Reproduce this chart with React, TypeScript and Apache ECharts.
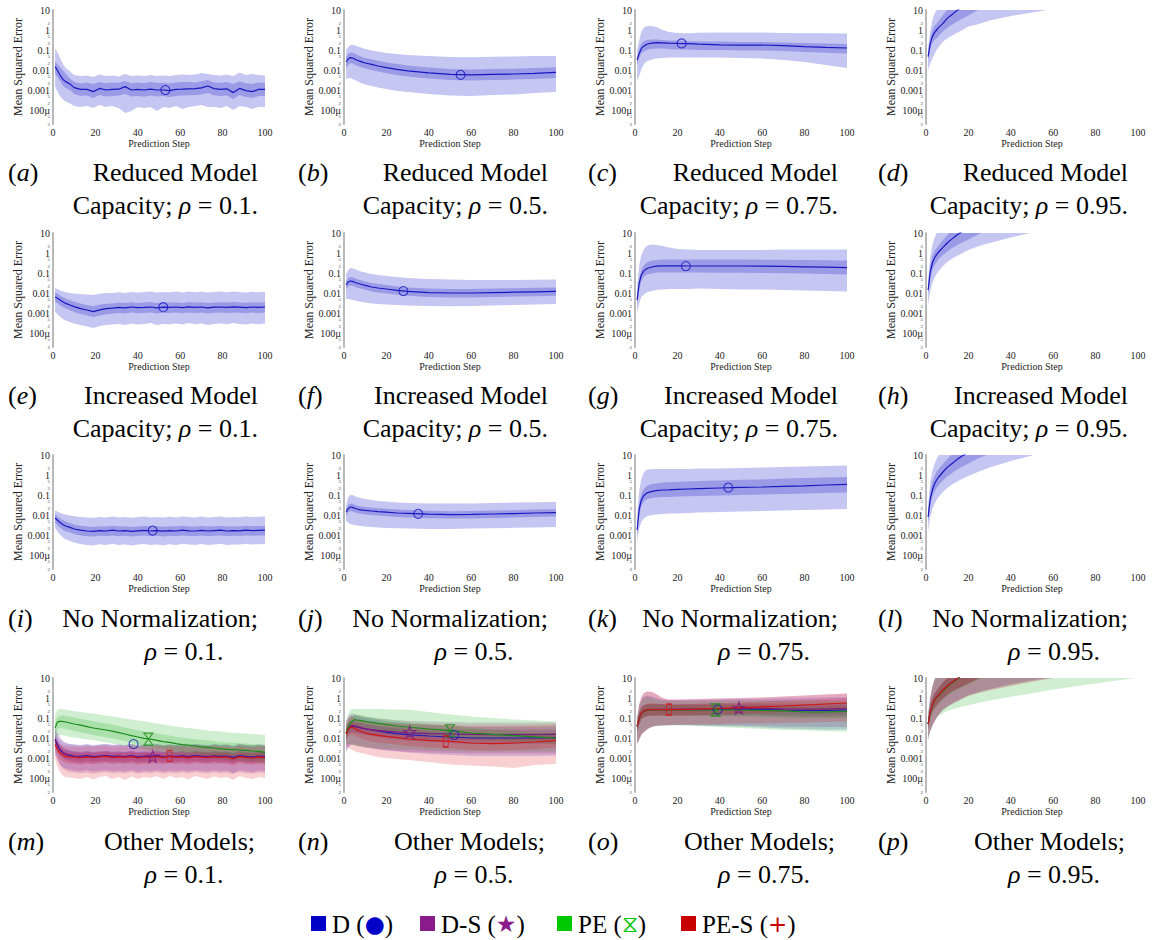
import React, { useEffect, useRef } from "react";
import * as echarts from "echarts";

const SERIF = '"Liberation Serif","Times New Roman",Times,serif';

// ---- prediction-step grids ----
const XN = [1,2,3,4,5,6,8,10,13,16,19,22,25,28,31,34,37,40,43,46,49,52,55,58,61,64,67,70,73,76,79,82,85,88,91,94,97,100];
const XS = [1,2,3,4,5,6,8,10,13,16,20,25,30,40,50,60,70,80,90,100];
const XD = [1,2,3,4,5,6,8,10,12,14,16,20,25,30,40,50,60,70,80,90,100];

// ---- values: log10(mean squared error) ----
// (a)
const a_med = [-1.83,-2.0,-2.2,-2.37,-2.5,-2.58,-2.7,-2.88,-2.97,-2.97,-3.08,-2.92,-3.0,-2.97,-2.96,-2.83,-3.0,-2.97,-3.0,-2.96,-3.0,-3.0,-3.03,-2.97,-2.96,-2.94,-2.93,-2.89,-2.8,-2.93,-2.97,-2.94,-3.13,-2.92,-3.03,-3.08,-2.97,-2.97];
const a_iHi = [-1.58,-1.7,-1.83,-1.95,-2.08,-2.2,-2.42,-2.6,-2.68,-2.62,-2.7,-2.6,-2.66,-2.62,-2.64,-2.55,-2.66,-2.62,-2.66,-2.6,-2.65,-2.64,-2.68,-2.62,-2.6,-2.6,-2.62,-2.56,-2.5,-2.62,-2.64,-2.6,-2.7,-2.58,-2.66,-2.7,-2.62,-2.64];
const a_iLo = [-2.17,-2.35,-2.5,-2.65,-2.83,-2.9,-3.0,-3.2,-3.3,-3.28,-3.4,-3.25,-3.32,-3.3,-3.28,-3.2,-3.32,-3.3,-3.34,-3.28,-3.32,-3.3,-3.35,-3.3,-3.28,-3.26,-3.25,-3.22,-3.15,-3.26,-3.3,-3.28,-3.45,-3.25,-3.35,-3.4,-3.3,-3.3];
const a_oHi = [-0.92,-1.1,-1.33,-1.55,-1.75,-1.9,-2.08,-2.25,-2.3,-2.28,-2.35,-2.22,-2.3,-2.27,-2.32,-2.2,-2.3,-2.28,-2.3,-2.25,-2.3,-2.28,-2.3,-2.25,-2.22,-2.25,-2.22,-2.15,-2.2,-2.25,-2.28,-2.22,-2.3,-2.12,-2.25,-2.2,-2.25,-2.28];
const a_oLo = [-2.83,-3.05,-3.25,-3.4,-3.5,-3.58,-3.67,-3.8,-3.85,-3.8,-3.9,-3.75,-3.85,-3.8,-3.9,-4.15,-4.05,-3.85,-3.9,-3.85,-4.05,-3.85,-3.9,-3.8,-3.95,-3.85,-3.8,-3.75,-3.85,-3.85,-3.9,-3.8,-4.0,-3.8,-3.85,-3.95,-3.85,-3.85];
const a_mk = [53, -3.0];
// (b)
const b_med = [-1.6,-1.45,-1.38,-1.4,-1.45,-1.5,-1.58,-1.65,-1.72,-1.8,-1.88,-1.97,-2.04,-2.14,-2.22,-2.24,-2.22,-2.2,-2.17,-2.12];
const b_iHi = [-1.35,-1.2,-1.12,-1.14,-1.18,-1.24,-1.32,-1.4,-1.46,-1.54,-1.62,-1.7,-1.77,-1.88,-1.95,-1.97,-1.95,-1.94,-1.9,-1.86];
const b_iLo = [-1.9,-1.75,-1.66,-1.68,-1.72,-1.78,-1.86,-1.92,-2.0,-2.08,-2.16,-2.25,-2.32,-2.42,-2.5,-2.52,-2.5,-2.48,-2.45,-2.4];
const b_oHi = [-1.0,-0.85,-0.75,-0.74,-0.76,-0.8,-0.88,-0.95,-1.02,-1.08,-1.15,-1.2,-1.25,-1.3,-1.35,-1.36,-1.34,-1.32,-1.3,-1.3];
const b_oLo = [-2.45,-2.4,-2.4,-2.45,-2.5,-2.55,-2.65,-2.72,-2.8,-2.88,-2.95,-3.05,-3.1,-3.2,-3.28,-3.3,-3.25,-3.22,-3.15,-3.1];
const b_mk = [55, -2.24];
// (c)
const c_med = [-1.5,-1.17,-0.92,-0.82,-0.75,-0.7,-0.66,-0.63,-0.64,-0.66,-0.67,-0.68,-0.71,-0.74,-0.76,-0.75,-0.78,-0.83,-0.87,-0.9];
const c_iHi = [-1.33,-0.95,-0.68,-0.58,-0.52,-0.5,-0.48,-0.48,-0.5,-0.52,-0.53,-0.55,-0.57,-0.58,-0.6,-0.6,-0.62,-0.65,-0.68,-0.7];
const c_iLo = [-1.75,-1.4,-1.15,-1.08,-1.03,-0.98,-0.94,-0.92,-0.93,-0.95,-0.97,-0.98,-1.0,-1.0,-1.02,-1.02,-1.05,-1.1,-1.14,-1.17];
const c_oHi = [-1.0,-0.5,-0.1,0.1,0.18,0.2,0.2,0.15,0.0,-0.1,-0.15,-0.16,-0.14,-0.12,-0.12,-0.13,-0.15,-0.16,-0.16,-0.17];
const c_oLo = [-2.5,-2.3,-1.95,-1.75,-1.6,-1.55,-1.48,-1.42,-1.4,-1.38,-1.38,-1.38,-1.37,-1.38,-1.4,-1.42,-1.5,-1.6,-1.75,-1.9];
const c_mk = [22, -0.67];
// (d)
const d_med = [-1.33,-0.67,-0.33,-0.13,0.0,0.13,0.33,0.58,0.75,0.92,1.08];
const d_iHi = [-1.15,-0.4,0.0,0.2,0.33,0.45,0.75,1.0,1.2,1.4,1.55,1.8,2,2.2];
const d_iLo = [-1.55,-0.95,-0.67,-0.5,-0.42,-0.3,-0.08,0.1,0.25,0.38,0.5,0.72,1.03,1.2];
const d_oHi = [-0.83,-0.1,0.5,0.8,1.0,1.2,1.5,1.8,2,2,2,2,2,2,2,2,2];
const d_oLo = [-2.0,-1.67,-1.42,-1.2,-1.0,-0.85,-0.58,-0.42,-0.3,-0.18,-0.08,0.17,0.3,0.47,0.7,0.87,1.05];
// (e)
const e_med = [-2.2,-2.25,-2.32,-2.4,-2.46,-2.52,-2.6,-2.68,-2.78,-2.85,-2.93,-2.84,-2.78,-2.76,-2.72,-2.74,-2.7,-2.73,-2.72,-2.7,-2.74,-2.71,-2.72,-2.7,-2.73,-2.69,-2.72,-2.7,-2.74,-2.71,-2.7,-2.72,-2.69,-2.71,-2.73,-2.7,-2.72,-2.7];
const e_iHi = [-1.95,-2.02,-2.1,-2.17,-2.22,-2.28,-2.36,-2.44,-2.52,-2.6,-2.66,-2.58,-2.54,-2.52,-2.48,-2.5,-2.46,-2.5,-2.47,-2.45,-2.5,-2.47,-2.48,-2.46,-2.5,-2.45,-2.48,-2.46,-2.5,-2.47,-2.46,-2.48,-2.45,-2.47,-2.49,-2.46,-2.48,-2.46];
const e_iLo = [-2.45,-2.5,-2.58,-2.66,-2.72,-2.78,-2.86,-2.95,-3.05,-3.12,-3.2,-3.12,-3.06,-3.04,-3.0,-3.02,-2.98,-3.01,-3.0,-2.98,-3.02,-2.99,-3.0,-2.98,-3.01,-2.97,-3.0,-2.98,-3.02,-2.99,-2.98,-3.0,-2.97,-2.99,-3.01,-2.98,-3.0,-2.98];
const e_oHi = [-1.75,-1.8,-1.85,-1.9,-1.93,-1.96,-2.0,-2.02,-2.05,-2.08,-2.1,-2.04,-2.0,-2.0,-1.96,-2.0,-1.95,-1.98,-1.95,-1.93,-1.98,-1.95,-1.96,-1.93,-1.98,-1.92,-1.96,-1.94,-1.98,-1.95,-1.93,-1.96,-1.92,-1.95,-1.97,-1.94,-1.96,-1.94];
const e_oLo = [-2.95,-3.05,-3.15,-3.25,-3.32,-3.38,-3.45,-3.52,-3.6,-3.68,-3.75,-3.65,-3.6,-3.58,-3.55,-3.6,-3.52,-3.58,-3.55,-3.5,-3.6,-3.55,-3.56,-3.52,-3.58,-3.5,-3.56,-3.53,-3.6,-3.55,-3.52,-3.56,-3.5,-3.55,-3.58,-3.52,-3.56,-3.53];
const e_mk = [52, -2.71];
// (f)
const f_med = [-1.6,-1.45,-1.4,-1.42,-1.46,-1.5,-1.56,-1.62,-1.7,-1.75,-1.8,-1.87,-1.92,-1.98,-2.0,-2.0,-1.98,-1.96,-1.94,-1.92];
const f_iHi = [-1.4,-1.25,-1.2,-1.22,-1.26,-1.3,-1.36,-1.42,-1.5,-1.55,-1.6,-1.67,-1.72,-1.78,-1.8,-1.8,-1.78,-1.76,-1.74,-1.72];
const f_iLo = [-1.82,-1.67,-1.62,-1.64,-1.68,-1.72,-1.78,-1.84,-1.92,-1.97,-2.02,-2.09,-2.14,-2.2,-2.22,-2.22,-2.2,-2.18,-2.16,-2.14];
const f_oHi = [-1.05,-0.85,-0.75,-0.76,-0.8,-0.85,-0.92,-0.98,-1.05,-1.1,-1.15,-1.2,-1.25,-1.3,-1.33,-1.35,-1.35,-1.35,-1.34,-1.33];
const f_oLo = [-2.3,-2.3,-2.32,-2.35,-2.38,-2.4,-2.44,-2.48,-2.52,-2.55,-2.58,-2.6,-2.62,-2.65,-2.66,-2.65,-2.63,-2.6,-2.58,-2.55];
const f_mk = [28, -1.9];
// (g)
const g_med = [-2.35,-1.5,-1.1,-0.92,-0.82,-0.76,-0.7,-0.66,-0.64,-0.64,-0.64,-0.65,-0.65,-0.65,-0.65,-0.66,-0.67,-0.69,-0.71,-0.73];
const g_iHi = [-2.1,-1.25,-0.85,-0.65,-0.52,-0.45,-0.38,-0.35,-0.33,-0.33,-0.32,-0.32,-0.33,-0.33,-0.33,-0.34,-0.34,-0.35,-0.36,-0.37];
const g_iLo = [-2.6,-1.8,-1.4,-1.2,-1.12,-1.06,-1.02,-0.98,-0.97,-0.97,-0.97,-0.98,-0.98,-0.99,-0.99,-1.0,-1.01,-1.03,-1.05,-1.07];
const g_oHi = [-1.6,-0.6,-0.1,0.15,0.3,0.38,0.42,0.4,0.35,0.28,0.2,0.17,0.15,0.15,0.15,0.15,0.17,0.17,0.18,0.18];
const g_oLo = [-3.0,-2.5,-2.2,-2.1,-2.0,-1.95,-1.9,-1.85,-1.82,-1.8,-1.8,-1.8,-1.78,-1.8,-1.82,-1.82,-1.85,-1.88,-1.9,-1.92];
const g_mk = [24, -0.65];
// (h)
const h_med = [-1.85,-0.95,-0.5,-0.25,-0.08,0.05,0.28,0.5,0.68,0.85,1.0,1.3];
const h_iHi = [-1.6,-0.6,-0.15,0.1,0.25,0.38,0.65,0.9,1.1,1.3,1.5,1.8,2,2];
const h_iLo = [-2.1,-1.3,-0.85,-0.62,-0.45,-0.3,-0.1,0.08,0.22,0.35,0.47,0.68,0.95,1.15];
const h_oHi = [-1.3,-0.2,0.4,0.75,1.0,1.2,1.5,2,2,2,2,2,2,2,2,2];
const h_oLo = [-2.6,-1.9,-1.5,-1.25,-1.05,-0.9,-0.65,-0.45,-0.3,-0.18,-0.08,0.15,0.35,0.5,0.78,1.02];
// (i)
const i_med = [-2.15,-2.25,-2.35,-2.42,-2.5,-2.55,-2.62,-2.7,-2.76,-2.8,-2.82,-2.78,-2.8,-2.76,-2.8,-2.78,-2.82,-2.79,-2.77,-2.8,-2.78,-2.81,-2.78,-2.8,-2.76,-2.79,-2.8,-2.77,-2.8,-2.78,-2.76,-2.8,-2.78,-2.79,-2.76,-2.78,-2.77,-2.76];
const i_iHi = [-1.95,-2.05,-2.14,-2.21,-2.28,-2.33,-2.4,-2.48,-2.54,-2.58,-2.6,-2.56,-2.58,-2.54,-2.58,-2.56,-2.6,-2.57,-2.55,-2.58,-2.56,-2.59,-2.56,-2.58,-2.54,-2.57,-2.58,-2.55,-2.58,-2.56,-2.54,-2.58,-2.56,-2.57,-2.54,-2.56,-2.55,-2.54];
const i_iLo = [-2.4,-2.5,-2.6,-2.68,-2.76,-2.81,-2.88,-2.96,-3.02,-3.06,-3.08,-3.04,-3.06,-3.02,-3.06,-3.04,-3.08,-3.05,-3.03,-3.06,-3.04,-3.07,-3.04,-3.06,-3.02,-3.05,-3.06,-3.03,-3.06,-3.04,-3.02,-3.06,-3.04,-3.05,-3.02,-3.04,-3.03,-3.02];
const i_oHi = [-1.75,-1.82,-1.88,-1.92,-1.96,-1.98,-2.02,-2.06,-2.1,-2.12,-2.14,-2.1,-2.13,-2.08,-2.12,-2.1,-2.14,-2.1,-2.08,-2.12,-2.1,-2.13,-2.09,-2.12,-2.07,-2.1,-2.12,-2.08,-2.12,-2.1,-2.07,-2.12,-2.1,-2.11,-2.07,-2.1,-2.09,-2.08];
const i_oLo = [-2.65,-2.8,-2.95,-3.05,-3.15,-3.22,-3.3,-3.38,-3.45,-3.5,-3.52,-3.46,-3.5,-3.44,-3.5,-3.47,-3.52,-3.48,-3.45,-3.5,-3.47,-3.51,-3.46,-3.5,-3.44,-3.48,-3.5,-3.45,-3.5,-3.47,-3.44,-3.5,-3.47,-3.48,-3.44,-3.47,-3.46,-3.45];
const i_mk = [47, -2.78];
// (j)
const j_med = [-1.85,-1.68,-1.6,-1.62,-1.66,-1.7,-1.74,-1.77,-1.8,-1.83,-1.86,-1.9,-1.92,-1.96,-1.98,-1.97,-1.95,-1.93,-1.9,-1.88];
const j_iHi = [-1.68,-1.5,-1.42,-1.44,-1.48,-1.52,-1.56,-1.6,-1.63,-1.66,-1.69,-1.73,-1.75,-1.79,-1.81,-1.8,-1.78,-1.76,-1.73,-1.71];
const j_iLo = [-2.05,-1.88,-1.8,-1.82,-1.86,-1.9,-1.94,-1.97,-2.0,-2.03,-2.06,-2.1,-2.12,-2.16,-2.18,-2.17,-2.15,-2.13,-2.1,-2.08];
const j_oHi = [-1.5,-1.1,-1.0,-1.0,-1.05,-1.1,-1.15,-1.2,-1.25,-1.3,-1.33,-1.37,-1.4,-1.42,-1.43,-1.42,-1.4,-1.38,-1.36,-1.35];
const j_oLo = [-2.3,-2.4,-2.45,-2.48,-2.5,-2.52,-2.55,-2.57,-2.6,-2.62,-2.65,-2.66,-2.68,-2.7,-2.7,-2.68,-2.66,-2.64,-2.62,-2.6];
const j_mk = [35, -1.94];
// (k)
const k_med = [-2.75,-1.7,-1.25,-1.05,-0.95,-0.88,-0.82,-0.78,-0.75,-0.74,-0.72,-0.7,-0.68,-0.65,-0.62,-0.6,-0.57,-0.54,-0.5,-0.47];
const k_iHi = [-2.5,-1.4,-0.95,-0.72,-0.6,-0.52,-0.45,-0.42,-0.38,-0.36,-0.34,-0.32,-0.3,-0.27,-0.24,-0.22,-0.18,-0.15,-0.12,-0.1];
const k_iLo = [-3.0,-2.0,-1.55,-1.35,-1.25,-1.2,-1.15,-1.12,-1.1,-1.1,-1.08,-1.06,-1.05,-1.02,-1.0,-0.98,-0.95,-0.92,-0.9,-0.88];
const k_oHi = [-2.0,-0.8,-0.2,0.1,0.22,0.28,0.3,0.3,0.3,0.3,0.3,0.3,0.32,0.33,0.35,0.37,0.4,0.42,0.45,0.48];
const k_oLo = [-3.3,-2.7,-2.35,-2.2,-2.1,-2.05,-2.0,-1.98,-1.95,-1.93,-1.92,-1.9,-1.88,-1.85,-1.82,-1.8,-1.78,-1.75,-1.72,-1.7];
const k_mk = [44, -0.63];
// (l)
const l_med = [-2.1,-1.2,-0.75,-0.45,-0.25,-0.1,0.15,0.38,0.55,0.72,0.88,1.15];
const l_iHi = [-1.85,-0.85,-0.35,-0.05,0.15,0.3,0.55,0.8,1.0,1.2,1.4,1.7,2,2];
const l_iLo = [-2.35,-1.55,-1.1,-0.85,-0.65,-0.5,-0.28,-0.08,0.08,0.22,0.35,0.58,0.85,1.05];
const l_oHi = [-1.5,-0.4,0.2,0.55,0.8,1.0,1.4,2,2,2,2,2,2,2,2,2];
const l_oLo = [-2.8,-2.1,-1.7,-1.45,-1.25,-1.1,-0.85,-0.65,-0.5,-0.38,-0.25,-0.05,0.18,0.38,0.7,0.98];
// (m)
const m_D_med = [-2.1,-2.35,-2.55,-2.68,-2.75,-2.8,-2.86,-2.9,-2.92,-2.88,-2.93,-2.9,-2.88,-2.92,-2.9,-2.93,-2.88,-2.94,-2.9,-2.92,-2.88,-2.93,-2.9,-2.92,-2.89,-2.93,-2.88,-2.91,-2.93,-2.89,-2.92,-2.9,-2.97,-2.88,-2.92,-2.95,-2.9,-2.92];
const m_D_iHi = [-1.9,-2.12,-2.32,-2.45,-2.52,-2.57,-2.63,-2.67,-2.69,-2.65,-2.7,-2.67,-2.65,-2.69,-2.67,-2.7,-2.65,-2.71,-2.67,-2.69,-2.65,-2.7,-2.67,-2.69,-2.66,-2.7,-2.65,-2.68,-2.7,-2.66,-2.69,-2.67,-2.74,-2.65,-2.69,-2.72,-2.67,-2.69];
const m_D_iLo = [-2.35,-2.6,-2.8,-2.93,-3.0,-3.05,-3.11,-3.15,-3.17,-3.13,-3.18,-3.15,-3.13,-3.17,-3.15,-3.18,-3.13,-3.19,-3.15,-3.17,-3.13,-3.18,-3.15,-3.17,-3.14,-3.18,-3.13,-3.16,-3.18,-3.14,-3.17,-3.15,-3.22,-3.13,-3.17,-3.2,-3.15,-3.17];
const m_D_oHi = [-1.6,-1.85,-2.05,-2.15,-2.22,-2.26,-2.3,-2.33,-2.35,-2.3,-2.36,-2.32,-2.3,-2.35,-2.32,-2.36,-2.3,-2.37,-2.32,-2.35,-2.3,-2.36,-2.32,-2.35,-2.31,-2.36,-2.3,-2.34,-2.36,-2.31,-2.35,-2.32,-2.4,-2.3,-2.35,-2.38,-2.32,-2.35];
const m_D_oLo = [-2.7,-3.0,-3.25,-3.4,-3.48,-3.52,-3.58,-3.62,-3.65,-3.6,-3.68,-3.62,-3.6,-3.66,-3.62,-3.68,-3.6,-3.7,-3.62,-3.66,-3.6,-3.68,-3.62,-3.66,-3.6,-3.68,-3.6,-3.64,-3.68,-3.6,-3.66,-3.62,-3.75,-3.6,-3.66,-3.7,-3.62,-3.66];
const m_D_mk = [38, -2.3];
const m_DS_med = [-2.05,-2.3,-2.5,-2.65,-2.75,-2.82,-2.9,-2.93,-2.96,-2.92,-2.97,-2.93,-2.9,-2.95,-2.92,-2.96,-2.9,-2.97,-2.93,-2.95,-2.9,-2.96,-2.92,-2.95,-2.91,-2.96,-2.9,-2.94,-2.96,-2.91,-2.95,-2.92,-3.0,-2.9,-2.95,-2.98,-2.92,-2.95];
const m_DS_iHi = [-1.8,-2.05,-2.25,-2.4,-2.5,-2.57,-2.65,-2.68,-2.71,-2.67,-2.72,-2.68,-2.65,-2.7,-2.67,-2.71,-2.65,-2.72,-2.68,-2.7,-2.65,-2.71,-2.67,-2.7,-2.66,-2.71,-2.65,-2.69,-2.71,-2.66,-2.7,-2.67,-2.75,-2.65,-2.7,-2.73,-2.67,-2.7];
const m_DS_iLo = [-2.35,-2.6,-2.8,-2.95,-3.05,-3.12,-3.2,-3.23,-3.26,-3.22,-3.27,-3.23,-3.2,-3.25,-3.22,-3.26,-3.2,-3.27,-3.23,-3.25,-3.2,-3.26,-3.22,-3.25,-3.21,-3.26,-3.2,-3.24,-3.26,-3.21,-3.25,-3.22,-3.3,-3.2,-3.25,-3.28,-3.22,-3.25];
const m_DS_oHi = [-1.45,-1.7,-1.9,-2.05,-2.15,-2.22,-2.3,-2.33,-2.36,-2.32,-2.37,-2.33,-2.3,-2.35,-2.32,-2.36,-2.3,-2.37,-2.33,-2.35,-2.3,-2.36,-2.32,-2.35,-2.31,-2.36,-2.3,-2.34,-2.36,-2.31,-2.35,-2.32,-2.4,-2.3,-2.35,-2.38,-2.32,-2.35];
const m_DS_oLo = [-2.85,-3.1,-3.3,-3.45,-3.55,-3.62,-3.7,-3.73,-3.76,-3.72,-3.77,-3.73,-3.7,-3.75,-3.72,-3.76,-3.7,-3.77,-3.73,-3.75,-3.7,-3.76,-3.72,-3.75,-3.71,-3.76,-3.7,-3.74,-3.76,-3.71,-3.75,-3.72,-3.8,-3.7,-3.75,-3.78,-3.72,-3.75];
const m_DS_mk = [47, -2.92];
const m_PE_med = [-1.5,-1.22,-1.17,-1.17,-1.18,-1.2,-1.25,-1.3,-1.36,-1.43,-1.5,-1.55,-1.6,-1.66,-1.73,-1.8,-1.88,-1.95,-2.02,-2.06,-2.12,-2.18,-2.22,-2.28,-2.33,-2.36,-2.4,-2.44,-2.47,-2.5,-2.54,-2.57,-2.58,-2.6,-2.62,-2.65,-2.67,-2.72];
const m_PE_iHi = [-1.25,-0.95,-0.9,-0.88,-0.88,-0.9,-0.94,-0.98,-1.04,-1.1,-1.16,-1.22,-1.27,-1.33,-1.4,-1.47,-1.55,-1.62,-1.68,-1.72,-1.78,-1.84,-1.88,-1.94,-1.99,-2.02,-2.06,-2.1,-2.13,-2.16,-2.2,-2.23,-2.24,-2.26,-2.28,-2.31,-2.33,-2.38];
const m_PE_iLo = [-1.85,-1.55,-1.5,-1.5,-1.52,-1.55,-1.6,-1.65,-1.72,-1.78,-1.85,-1.9,-1.96,-2.02,-2.09,-2.16,-2.24,-2.31,-2.38,-2.42,-2.48,-2.54,-2.58,-2.64,-2.69,-2.72,-2.76,-2.8,-2.83,-2.86,-2.9,-2.93,-2.94,-2.96,-2.98,-3.01,-3.03,-3.08];
const m_PE_oHi = [-0.85,-0.6,-0.55,-0.55,-0.57,-0.58,-0.62,-0.66,-0.7,-0.74,-0.78,-0.82,-0.87,-0.92,-0.97,-1.02,-1.08,-1.13,-1.18,-1.22,-1.28,-1.33,-1.37,-1.42,-1.47,-1.5,-1.54,-1.58,-1.62,-1.65,-1.68,-1.72,-1.74,-1.76,-1.78,-1.8,-1.82,-1.85];
const m_PE_oLo = [-2.2,-1.9,-1.85,-1.85,-1.88,-1.9,-1.95,-1.98,-2.02,-2.06,-2.1,-2.16,-2.22,-2.28,-2.34,-2.4,-2.46,-2.52,-2.58,-2.62,-2.66,-2.72,-2.76,-2.8,-2.85,-2.88,-2.92,-2.96,-3.0,-3.03,-3.06,-3.1,-3.12,-3.15,-3.18,-3.2,-3.22,-3.25];
const m_PE_mk = [45, -2.05];
const m_PES_med = [-2.33,-2.55,-2.72,-2.8,-2.88,-2.92,-2.95,-2.96,-3.0,-2.94,-2.98,-2.95,-2.92,-2.98,-2.94,-2.97,-2.93,-3.0,-2.95,-2.97,-2.93,-2.98,-2.92,-2.97,-2.94,-2.99,-2.93,-2.96,-2.98,-2.94,-2.97,-2.95,-3.05,-2.93,-2.98,-3.0,-2.96,-2.98];
const m_PES_iHi = [-2.1,-2.3,-2.48,-2.56,-2.64,-2.68,-2.72,-2.73,-2.78,-2.72,-2.76,-2.73,-2.7,-2.76,-2.72,-2.75,-2.71,-2.78,-2.73,-2.75,-2.71,-2.76,-2.7,-2.75,-2.72,-2.77,-2.71,-2.74,-2.76,-2.72,-2.75,-2.73,-2.82,-2.71,-2.76,-2.78,-2.74,-2.76];
const m_PES_iLo = [-2.6,-2.85,-3.05,-3.12,-3.2,-3.24,-3.27,-3.28,-3.32,-3.26,-3.3,-3.27,-3.24,-3.3,-3.26,-3.29,-3.25,-3.32,-3.27,-3.29,-3.25,-3.3,-3.24,-3.29,-3.26,-3.31,-3.25,-3.28,-3.3,-3.26,-3.29,-3.27,-3.38,-3.25,-3.3,-3.32,-3.28,-3.3];
const m_PES_oHi = [-2.05,-2.2,-2.3,-2.35,-2.38,-2.4,-2.42,-2.42,-2.45,-2.4,-2.43,-2.4,-2.38,-2.44,-2.4,-2.42,-2.38,-2.45,-2.4,-2.42,-2.38,-2.43,-2.37,-2.42,-2.4,-2.44,-2.38,-2.41,-2.43,-2.39,-2.42,-2.4,-2.48,-2.38,-2.42,-2.45,-2.4,-2.42];
const m_PES_oLo = [-3.0,-3.4,-3.65,-3.8,-3.9,-3.95,-3.98,-4.0,-4.05,-3.95,-4.08,-3.95,-3.9,-4.05,-3.95,-4.1,-3.92,-4.05,-3.95,-4.0,-3.9,-4.05,-3.9,-4.0,-3.95,-4.08,-3.9,-3.98,-4.05,-3.92,-4.0,-3.95,-4.1,-3.9,-4.0,-4.05,-3.95,-4.0];
const m_PES_mk = [55, -2.9];
// (n)
const n_D_med = [-1.75,-1.55,-1.45,-1.42,-1.42,-1.45,-1.5,-1.55,-1.6,-1.65,-1.72,-1.78,-1.83,-1.9,-1.95,-2.0,-2.0,-2.0,-2.0,-1.98];
const n_D_iHi = [-1.5,-1.3,-1.2,-1.17,-1.17,-1.2,-1.25,-1.3,-1.35,-1.4,-1.47,-1.53,-1.58,-1.65,-1.7,-1.75,-1.75,-1.75,-1.75,-1.73];
const n_D_iLo = [-2.05,-1.85,-1.75,-1.72,-1.72,-1.75,-1.8,-1.85,-1.9,-1.95,-2.02,-2.08,-2.13,-2.2,-2.25,-2.3,-2.3,-2.3,-2.3,-2.28];
const n_D_oHi = [-1.2,-1.0,-0.9,-0.87,-0.87,-0.9,-0.95,-1.0,-1.05,-1.1,-1.17,-1.23,-1.28,-1.35,-1.4,-1.45,-1.45,-1.45,-1.45,-1.43];
const n_D_oLo = [-2.65,-2.45,-2.35,-2.32,-2.32,-2.35,-2.4,-2.45,-2.5,-2.55,-2.62,-2.68,-2.73,-2.8,-2.85,-2.9,-2.9,-2.9,-2.9,-2.88];
const n_D_mk = [52, -1.85];
const n_DS_med = [-1.75,-1.5,-1.4,-1.38,-1.4,-1.43,-1.48,-1.53,-1.58,-1.62,-1.66,-1.7,-1.74,-1.78,-1.8,-1.82,-1.83,-1.83,-1.83,-1.82];
const n_DS_iHi = [-1.5,-1.25,-1.15,-1.13,-1.15,-1.18,-1.23,-1.28,-1.33,-1.37,-1.41,-1.45,-1.49,-1.53,-1.55,-1.57,-1.58,-1.58,-1.58,-1.57];
const n_DS_iLo = [-2.05,-1.8,-1.7,-1.68,-1.7,-1.73,-1.78,-1.83,-1.88,-1.92,-1.96,-2.0,-2.04,-2.08,-2.1,-2.12,-2.13,-2.13,-2.13,-2.12];
const n_DS_oHi = [-1.15,-0.9,-0.8,-0.78,-0.8,-0.83,-0.88,-0.93,-0.98,-1.02,-1.06,-1.1,-1.14,-1.18,-1.2,-1.22,-1.23,-1.23,-1.23,-1.22];
const n_DS_oLo = [-2.7,-2.45,-2.35,-2.33,-2.35,-2.38,-2.43,-2.48,-2.53,-2.57,-2.61,-2.65,-2.69,-2.73,-2.75,-2.77,-2.78,-2.78,-2.78,-2.77];
const n_DS_mk = [31, -1.7];
const n_PE_med = [-1.75,-1.45,-1.25,-1.15,-1.08,-1.1,-1.13,-1.17,-1.22,-1.27,-1.33,-1.4,-1.45,-1.55,-1.63,-1.75,-1.82,-1.88,-1.94,-2.0];
const n_PE_iHi = [-1.5,-1.2,-1.0,-0.9,-0.83,-0.85,-0.88,-0.92,-0.97,-1.02,-1.08,-1.15,-1.2,-1.3,-1.38,-1.5,-1.57,-1.63,-1.69,-1.75];
const n_PE_iLo = [-2.05,-1.75,-1.55,-1.45,-1.38,-1.4,-1.43,-1.47,-1.52,-1.57,-1.63,-1.7,-1.75,-1.85,-1.93,-2.05,-2.12,-2.18,-2.24,-2.3];
const n_PE_oHi = [-1.3,-0.8,-0.6,-0.55,-0.55,-0.55,-0.55,-0.55,-0.55,-0.55,-0.56,-0.57,-0.58,-0.7,-0.82,-0.92,-1.0,-1.08,-1.13,-1.17];
const n_PE_oLo = [-2.3,-2.3,-2.3,-2.35,-2.4,-2.42,-2.45,-2.47,-2.5,-2.52,-2.55,-2.57,-2.58,-2.62,-2.65,-2.67,-2.68,-2.68,-2.68,-2.68];
const n_PE_mk = [50, -1.63];
const n_PES_med = [-1.8,-1.55,-1.47,-1.47,-1.52,-1.58,-1.66,-1.75,-1.82,-1.87,-1.92,-1.98,-2.05,-2.12,-2.17,-2.25,-2.28,-2.25,-2.2,-2.13];
const n_PES_iHi = [-1.55,-1.3,-1.22,-1.22,-1.27,-1.33,-1.41,-1.5,-1.57,-1.62,-1.67,-1.73,-1.8,-1.87,-1.92,-2.0,-2.03,-2.0,-1.95,-1.88];
const n_PES_iLo = [-2.15,-1.9,-1.82,-1.82,-1.87,-1.93,-2.01,-2.1,-2.17,-2.22,-2.27,-2.33,-2.4,-2.47,-2.52,-2.6,-2.63,-2.6,-2.55,-2.48];
const n_PES_oHi = [-1.3,-1.05,-0.95,-0.95,-1.0,-1.05,-1.1,-1.15,-1.2,-1.22,-1.25,-1.28,-1.3,-1.33,-1.35,-1.38,-1.38,-1.36,-1.35,-1.33];
const n_PES_oLo = [-2.4,-2.5,-2.55,-2.6,-2.65,-2.7,-2.75,-2.8,-2.88,-2.95,-3.0,-3.05,-3.1,-3.2,-3.32,-3.38,-3.42,-3.5,-3.35,-3.3];
const n_PES_mk = [48, -2.17];
// (o)
const o_D_med = [-1.42,-1.0,-0.75,-0.68,-0.63,-0.6,-0.58,-0.58,-0.58,-0.58,-0.58,-0.58,-0.58,-0.57,-0.56,-0.57,-0.6,-0.62,-0.62,-0.6];
const o_D_iHi = [-1.2,-0.75,-0.48,-0.4,-0.35,-0.32,-0.3,-0.3,-0.32,-0.33,-0.33,-0.33,-0.33,-0.32,-0.31,-0.32,-0.34,-0.36,-0.36,-0.34];
const o_D_iLo = [-1.7,-1.3,-1.05,-0.98,-0.93,-0.9,-0.88,-0.88,-0.88,-0.88,-0.88,-0.88,-0.88,-0.87,-0.86,-0.88,-0.92,-0.95,-0.95,-0.93];
const o_D_oHi = [-1.0,-0.4,-0.1,0.05,0.1,0.12,0.08,0.0,-0.08,-0.1,-0.1,-0.1,-0.1,-0.08,-0.06,-0.05,-0.03,0.0,0.02,0.05];
const o_D_oLo = [-2.3,-2.05,-1.82,-1.7,-1.63,-1.53,-1.43,-1.38,-1.36,-1.35,-1.35,-1.36,-1.37,-1.4,-1.43,-1.47,-1.52,-1.55,-1.57,-1.58];
const o_D_mk = [39, -0.58];
const o_DS_med = [-1.42,-1.0,-0.75,-0.67,-0.62,-0.59,-0.57,-0.57,-0.57,-0.57,-0.56,-0.56,-0.55,-0.54,-0.52,-0.52,-0.54,-0.55,-0.55,-0.53];
const o_DS_iHi = [-1.2,-0.72,-0.45,-0.37,-0.32,-0.29,-0.28,-0.29,-0.3,-0.31,-0.31,-0.3,-0.29,-0.28,-0.26,-0.26,-0.27,-0.28,-0.28,-0.26];
const o_DS_iLo = [-1.7,-1.3,-1.05,-0.97,-0.92,-0.89,-0.87,-0.87,-0.87,-0.87,-0.86,-0.86,-0.85,-0.84,-0.82,-0.82,-0.84,-0.86,-0.86,-0.84];
const o_DS_oHi = [-1.0,-0.3,0.05,0.22,0.3,0.32,0.3,0.2,0.0,-0.08,-0.08,-0.06,-0.05,-0.02,0.0,0.03,0.08,0.12,0.18,0.22];
const o_DS_oLo = [-2.3,-2.08,-1.84,-1.72,-1.64,-1.54,-1.44,-1.39,-1.37,-1.36,-1.35,-1.35,-1.36,-1.37,-1.38,-1.4,-1.42,-1.44,-1.45,-1.45];
const o_DS_mk = [49, -0.5];
const o_PE_med = [-1.42,-1.0,-0.76,-0.69,-0.64,-0.61,-0.59,-0.59,-0.59,-0.59,-0.59,-0.58,-0.6,-0.6,-0.6,-0.62,-0.64,-0.7,-0.7,-0.67];
const o_PE_iHi = [-1.2,-0.76,-0.5,-0.42,-0.37,-0.34,-0.32,-0.33,-0.34,-0.35,-0.35,-0.34,-0.35,-0.35,-0.35,-0.37,-0.39,-0.44,-0.44,-0.42];
const o_PE_iLo = [-1.7,-1.3,-1.06,-0.99,-0.94,-0.91,-0.89,-0.89,-0.89,-0.89,-0.89,-0.88,-0.9,-0.9,-0.92,-0.95,-0.98,-1.02,-1.02,-1.0];
const o_PE_oHi = [-1.0,-0.45,-0.15,0.0,0.05,0.05,0.0,-0.05,-0.12,-0.15,-0.15,-0.15,-0.15,-0.14,-0.13,-0.12,-0.12,-0.13,-0.14,-0.15];
const o_PE_oLo = [-2.3,-2.0,-1.8,-1.7,-1.65,-1.55,-1.45,-1.4,-1.38,-1.37,-1.37,-1.38,-1.4,-1.45,-1.5,-1.55,-1.6,-1.62,-1.65,-1.68];
const o_PE_mk = [38, -0.6];
const o_PES_med = [-1.42,-1.0,-0.75,-0.67,-0.62,-0.59,-0.58,-0.58,-0.58,-0.58,-0.58,-0.57,-0.56,-0.52,-0.48,-0.44,-0.4,-0.35,-0.3,-0.25];
const o_PES_iHi = [-1.2,-0.72,-0.45,-0.37,-0.32,-0.29,-0.28,-0.29,-0.31,-0.32,-0.32,-0.31,-0.3,-0.26,-0.22,-0.18,-0.14,-0.1,-0.05,0.0];
const o_PES_iLo = [-1.7,-1.3,-1.05,-0.97,-0.92,-0.89,-0.88,-0.88,-0.88,-0.88,-0.88,-0.87,-0.86,-0.82,-0.78,-0.74,-0.7,-0.65,-0.6,-0.55];
const o_PES_oHi = [-1.0,-0.3,0.05,0.22,0.3,0.32,0.3,0.2,0.0,-0.08,-0.08,-0.06,-0.05,-0.02,0.0,0.03,0.08,0.12,0.18,0.22];
const o_PES_oLo = [-2.3,-2.1,-1.85,-1.72,-1.65,-1.55,-1.45,-1.4,-1.37,-1.35,-1.33,-1.33,-1.32,-1.3,-1.28,-1.27,-1.25,-1.22,-1.2,-1.18];
const o_PES_mk = [16, -0.58];
// (p)
const p_D_med = [-1.3,-0.7,-0.35,-0.12,0.02,0.15,0.38,0.58,0.75,0.9,1.05];
const p_D_iHi = [-1.1,-0.4,0.0,0.22,0.37,0.5,0.78,1.0,1.2,1.4,1.6,1.9,2,2];
const p_D_iLo = [-1.5,-1.0,-0.7,-0.5,-0.38,-0.25,-0.03,0.15,0.3,0.42,0.52,0.72,0.98,1.15];
const p_D_oHi = [-0.8,0.0,0.55,0.9,1.1,1.3,1.6,2,2,2,2,2,2,2,2,2,2];
const p_D_oLo = [-2.0,-1.65,-1.4,-1.2,-1.0,-0.85,-0.6,-0.45,-0.32,-0.2,-0.1,0.12,0.28,0.42,0.65,0.85,1.02];
const p_DS_med = [-1.3,-0.68,-0.33,-0.1,0.04,0.17,0.4,0.6,0.77,0.92,1.07];
const p_DS_iHi = [-1.08,-0.38,0.02,0.24,0.4,0.53,0.8,1.02,1.22,1.42,1.62,1.9,2,2];
const p_DS_iLo = [-1.52,-1.0,-0.68,-0.48,-0.36,-0.22,0.0,0.18,0.33,0.45,0.55,0.75,1.0,1.18];
const p_DS_oHi = [-0.75,0.05,0.6,0.95,1.15,1.35,1.6,2,2,2,2,2,2,2,2,2,2];
const p_DS_oLo = [-2.0,-1.6,-1.35,-1.15,-0.95,-0.8,-0.55,-0.4,-0.28,-0.16,-0.06,0.15,0.32,0.45,0.7,0.9,1.05];
const p_PE_med = [-1.3,-0.72,-0.38,-0.15,0.0,0.12,0.35,0.55,0.72,0.87,1.02];
const p_PE_iHi = [-1.1,-0.42,-0.02,0.2,0.35,0.48,0.75,0.98,1.18,1.38,1.58,1.9,2,2];
const p_PE_iLo = [-1.55,-1.05,-0.75,-0.55,-0.42,-0.3,-0.08,0.1,0.25,0.37,0.47,0.67,0.92,1.1];
const p_PE_oHi = [-0.8,0.0,0.55,0.9,1.1,1.3,1.6,2,2,2,2,2,2,2,2,2,2,2,2,2,2];
const p_PE_oLo = [-2.2,-1.65,-1.35,-1.15,-1.0,-0.9,-0.76,-0.66,-0.58,-0.52,-0.46,-0.36,-0.24,-0.12,0.06,0.24,0.42,0.58,0.72,0.88,1.02];
const p_PES_med = [-1.3,-0.7,-0.34,-0.11,0.03,0.16,0.39,0.59,0.76,0.91,1.06];
const p_PES_iHi = [-1.1,-0.4,0.0,0.23,0.38,0.52,0.79,1.0,1.2,1.4,1.6,1.9,2,2];
const p_PES_iLo = [-1.5,-1.0,-0.7,-0.5,-0.37,-0.24,-0.02,0.16,0.31,0.43,0.53,0.73,0.99,1.16];
const p_PES_oHi = [-0.8,0.0,0.55,0.9,1.1,1.3,1.6,2,2,2,2,2,2,2,2,2,2];
const p_PES_oLo = [-2.05,-1.65,-1.4,-1.2,-1.0,-0.85,-0.6,-0.45,-0.32,-0.2,-0.1,0.1,0.25,0.38,0.6,0.8,1.0];

// ---- axis ticks / text ----
const Y_DECADES = [1, 0, -1, -2, -3, -4];
const Y_DECADE_LABELS = ["10", "1", "0.1", "0.01", "0.001", "100µ"];
const Y_MINOR_MANTISSAS = [5, 2];
const Y_MAX = 1;
const Y_MIN = Math.log10(2e-5);
const X_TICK_INTERVAL = 20;

const LETTERS = ["a","b","c","d","e","f","g","h","i","j","k","l","m","n","o","p"];
const ROW_TITLES = ["Reduced Model", "Increased Model", "No Normalization;", "Other Models;"];
const RHOS = ["0.1", "0.5", "0.75", "0.95"];
const LEGEND_NAMES = ["D", "D-S", "PE", "PE-S"];
const LEGEND_GLYPHS = ["●", "★", "⧖", "+"];

type ModelKey = "D" | "DS" | "PE" | "PES";
type Spec = { m: ModelKey; x: number[]; med: number[]; iLo: number[]; iHi: number[]; oLo: number[]; oHi: number[]; mk?: number[] };

const PANELS: Spec[][] = [
  [{ m: "D", x: XN, med: a_med, iLo: a_iLo, iHi: a_iHi, oLo: a_oLo, oHi: a_oHi, mk: a_mk }],
  [{ m: "D", x: XS, med: b_med, iLo: b_iLo, iHi: b_iHi, oLo: b_oLo, oHi: b_oHi, mk: b_mk }],
  [{ m: "D", x: XS, med: c_med, iLo: c_iLo, iHi: c_iHi, oLo: c_oLo, oHi: c_oHi, mk: c_mk }],
  [{ m: "D", x: XD, med: d_med, iLo: d_iLo, iHi: d_iHi, oLo: d_oLo, oHi: d_oHi }],
  [{ m: "D", x: XN, med: e_med, iLo: e_iLo, iHi: e_iHi, oLo: e_oLo, oHi: e_oHi, mk: e_mk }],
  [{ m: "D", x: XS, med: f_med, iLo: f_iLo, iHi: f_iHi, oLo: f_oLo, oHi: f_oHi, mk: f_mk }],
  [{ m: "D", x: XS, med: g_med, iLo: g_iLo, iHi: g_iHi, oLo: g_oLo, oHi: g_oHi, mk: g_mk }],
  [{ m: "D", x: XD, med: h_med, iLo: h_iLo, iHi: h_iHi, oLo: h_oLo, oHi: h_oHi }],
  [{ m: "D", x: XN, med: i_med, iLo: i_iLo, iHi: i_iHi, oLo: i_oLo, oHi: i_oHi, mk: i_mk }],
  [{ m: "D", x: XS, med: j_med, iLo: j_iLo, iHi: j_iHi, oLo: j_oLo, oHi: j_oHi, mk: j_mk }],
  [{ m: "D", x: XS, med: k_med, iLo: k_iLo, iHi: k_iHi, oLo: k_oLo, oHi: k_oHi, mk: k_mk }],
  [{ m: "D", x: XD, med: l_med, iLo: l_iLo, iHi: l_iHi, oLo: l_oLo, oHi: l_oHi }],
  [
    { m: "D", x: XN, med: m_D_med, iLo: m_D_iLo, iHi: m_D_iHi, oLo: m_D_oLo, oHi: m_D_oHi, mk: m_D_mk },
    { m: "DS", x: XN, med: m_DS_med, iLo: m_DS_iLo, iHi: m_DS_iHi, oLo: m_DS_oLo, oHi: m_DS_oHi, mk: m_DS_mk },
    { m: "PE", x: XN, med: m_PE_med, iLo: m_PE_iLo, iHi: m_PE_iHi, oLo: m_PE_oLo, oHi: m_PE_oHi, mk: m_PE_mk },
    { m: "PES", x: XN, med: m_PES_med, iLo: m_PES_iLo, iHi: m_PES_iHi, oLo: m_PES_oLo, oHi: m_PES_oHi, mk: m_PES_mk },
  ],
  [
    { m: "D", x: XS, med: n_D_med, iLo: n_D_iLo, iHi: n_D_iHi, oLo: n_D_oLo, oHi: n_D_oHi, mk: n_D_mk },
    { m: "DS", x: XS, med: n_DS_med, iLo: n_DS_iLo, iHi: n_DS_iHi, oLo: n_DS_oLo, oHi: n_DS_oHi, mk: n_DS_mk },
    { m: "PE", x: XS, med: n_PE_med, iLo: n_PE_iLo, iHi: n_PE_iHi, oLo: n_PE_oLo, oHi: n_PE_oHi, mk: n_PE_mk },
    { m: "PES", x: XS, med: n_PES_med, iLo: n_PES_iLo, iHi: n_PES_iHi, oLo: n_PES_oLo, oHi: n_PES_oHi, mk: n_PES_mk },
  ],
  [
    { m: "D", x: XS, med: o_D_med, iLo: o_D_iLo, iHi: o_D_iHi, oLo: o_D_oLo, oHi: o_D_oHi, mk: o_D_mk },
    { m: "DS", x: XS, med: o_DS_med, iLo: o_DS_iLo, iHi: o_DS_iHi, oLo: o_DS_oLo, oHi: o_DS_oHi, mk: o_DS_mk },
    { m: "PE", x: XS, med: o_PE_med, iLo: o_PE_iLo, iHi: o_PE_iHi, oLo: o_PE_oLo, oHi: o_PE_oHi, mk: o_PE_mk },
    { m: "PES", x: XS, med: o_PES_med, iLo: o_PES_iLo, iHi: o_PES_iHi, oLo: o_PES_oLo, oHi: o_PES_oHi, mk: o_PES_mk },
  ],
  [
    { m: "D", x: XD, med: p_D_med, iLo: p_D_iLo, iHi: p_D_iHi, oLo: p_D_oLo, oHi: p_D_oHi },
    { m: "DS", x: XD, med: p_DS_med, iLo: p_DS_iLo, iHi: p_DS_iHi, oLo: p_DS_oLo, oHi: p_DS_oHi },
    { m: "PE", x: XD, med: p_PE_med, iLo: p_PE_iLo, iHi: p_PE_iHi, oLo: p_PE_oLo, oHi: p_PE_oHi },
    { m: "PES", x: XD, med: p_PES_med, iLo: p_PES_iLo, iHi: p_PES_iHi, oLo: p_PES_oLo, oHi: p_PES_oHi },
  ],
];

// ---- styling ----
const GRID_LEFT = [53, 344, 635, 926];
const GRID_TOP = [10, 233, 455, 678];
const GRID_W = 212;
const GRID_H = 114;
const CAP_COL_X = [0, 290, 580, 870];

const SINGLE = { outer: "#c6c6f3", inner: "#9a9ae6", line: "#1818c2" };
const MULTI: Record<ModelKey, { band: string; line: string }> = {
  D: { band: "rgba(40,40,210,0.20)", line: "#1c1cb8" },
  DS: { band: "rgba(140,20,140,0.20)", line: "#7d1a7d" },
  PE: { band: "rgba(20,170,20,0.20)", line: "#1b8c1b" },
  PES: { band: "rgba(220,20,30,0.20)", line: "#d01515" },
};
const LEGEND_COLORS = ["#0000c8", "#8b1a8b", "#00c800", "#c80000"];
const STAR = "path://M50,0L61,35L98,35L68,57L79,91L50,70L21,91L32,57L2,35L39,35Z";
const HOURGLASS = "path://M0,0L10,0L0,14L10,14Z";
const SYMBOLS: Record<ModelKey, { symbol: string; size: number | number[] }> = {
  D: { symbol: "circle", size: 9 },
  DS: { symbol: STAR, size: 12 },
  PE: { symbol: HOURGLASS, size: [9, 12] },
  PES: { symbol: "rect", size: [5, 11] },
};

function yLabel(v: number): string {
  const r = Math.round(v);
  if (Math.abs(v - r) < 1e-6) {
    const k = Y_DECADES.indexOf(r);
    return k >= 0 ? Y_DECADE_LABELS[k] : "";
  }
  const m = Math.round(Math.pow(10, v - Math.floor(v)));
  return `{s|${m}}`;
}

function yTickValues(): number[] {
  const vals: number[] = [];
  for (const d of Y_DECADES) {
    vals.push(d);
    for (const m of Y_MINOR_MANTISSAS) vals.push(d - 1 + Math.log10(m));
  }
  return vals.filter((v) => v >= Y_MIN - 1e-9 && v <= Y_MAX + 1e-9);
}

function pairs(x: number[], y: number[]) {
  return y.map((v, i) => [x[i], v]);
}

// band between lo and hi, drawn as one polygon through the axis scales
function bandSeries(g: number, x: number[], lo: number[], hi: number[], color: string) {
  return {
    type: "custom",
    xAxisIndex: g,
    yAxisIndex: g,
    silent: true,
    clip: true,
    z: 1,
    data: [[x[0], lo[0]]],
    renderItem: (params: any, api: any) => {
      const pts: number[][] = [];
      for (let i = 0; i < hi.length; i++) pts.push(api.coord([x[i], hi[i]]));
      for (let i = lo.length - 1; i >= 0; i--) pts.push(api.coord([x[i], lo[i]]));
      const cs = params.coordSys;
      return {
        type: "polygon",
        shape: { points: pts },
        style: { fill: color, stroke: "none" },
        clipPath: { type: "rect", shape: { x: cs.x, y: cs.y, width: cs.width, height: cs.height } },
      };
    },
  };
}

function buildOption() {
  const grid: any[] = [];
  const xAxis: any[] = [];
  const yAxis: any[] = [];
  const series: any[] = [];
  const graphic: any[] = [];
  const ticks = yTickValues();

  for (let r = 0; r < 4; r++) {
    for (let c = 0; c < 4; c++) {
      const g = r * 4 + c;
      grid.push({ left: GRID_LEFT[c], top: GRID_TOP[r], width: GRID_W, height: GRID_H, containLabel: false, outerBoundsMode: "none" });
      xAxis.push({
        type: "value", gridIndex: g, min: 0, max: 100, interval: X_TICK_INTERVAL,
        axisLine: { show: false, onZero: false }, axisTick: { show: false }, splitLine: { show: false },
        axisLabel: { fontFamily: SERIF, fontSize: 10, color: "#222", margin: 3, showMinLabel: true, showMaxLabel: true },
        name: "Prediction Step", nameLocation: "middle", nameGap: 14,
        nameTextStyle: { fontFamily: SERIF, fontSize: 10, color: "#222" },
      });
      yAxis.push({
        type: "value", gridIndex: g, min: Y_MIN, max: Y_MAX,
        axisLine: { show: true, onZero: false, lineStyle: { color: "#b9b9b9", width: 2 } },
        axisTick: { show: false }, splitLine: { show: false },
        axisLabel: {
          customValues: ticks, formatter: yLabel, fontFamily: SERIF, fontSize: 10, color: "#222", margin: 3,
          showMinLabel: true, showMaxLabel: true, hideOverlap: false,
          rich: { s: { fontSize: 5, fontFamily: SERIF, color: "#444" } },
        },
        name: "Mean Squared Error", nameLocation: "middle", nameGap: 27,
        nameTextStyle: { fontFamily: SERIF, fontSize: 12, color: "#222" },
      });

      const models = PANELS[g];
      const multi = models.length > 1;
      models.forEach((s) => {
        const outer = multi ? MULTI[s.m].band : SINGLE.outer;
        const inner = multi ? MULTI[s.m].band : SINGLE.inner;
        series.push(bandSeries(g, s.x, s.oLo, s.oHi, outer));
        series.push(bandSeries(g, s.x, s.iLo, s.iHi, inner));
      });
      models.forEach((s) => {
        const col = multi ? MULTI[s.m].line : SINGLE.line;
        series.push({
          type: "line", xAxisIndex: g, yAxisIndex: g, data: pairs(s.x, s.med), symbol: "none",
          silent: true, clip: true, lineStyle: { color: col, width: 1.2 }, z: 3,
        });
      });
      models.forEach((s) => {
        if (!s.mk) return;
        const col = multi ? MULTI[s.m].line : SINGLE.line;
        const sym = SYMBOLS[s.m];
        series.push({
          type: "scatter", xAxisIndex: g, yAxisIndex: g, data: [s.mk], symbol: sym.symbol, symbolSize: sym.size,
          silent: true, clip: true, z: 4,
          itemStyle: { color: "rgba(0,0,0,0)", borderColor: col, borderWidth: 1.1 },
        });
      });

      // caption
      const letter = LETTERS[g];
      const cx = CAP_COL_X[c];
      const y1 = 172 + 223 * r;
      const y2 = 205 + 223 * r;
      const rich = {
        n: { fontFamily: SERIF, fontSize: 26, fill: "#000" },
        i: { fontFamily: SERIF, fontSize: 26, fontStyle: "italic", fill: "#000" },
      };
      graphic.push({ type: "text", x: cx + 8, y: y1, style: { text: `{n|(}{i|${letter}}{n|)}`, rich, align: "left", verticalAlign: "middle" } });
      graphic.push({ type: "text", x: cx + (r === 3 ? 255 : 258), y: y1, style: { text: `{n|${ROW_TITLES[r]}}`, rich, align: "right", verticalAlign: "middle" } });
      if (r < 2) {
        graphic.push({ type: "text", x: cx + 258, y: y2, style: { text: `{n|Capacity; }{i|ρ}{n| = ${RHOS[c]}.}`, rich, align: "right", verticalAlign: "middle" } });
      } else {
        graphic.push({ type: "text", x: cx + 184, y: y2, style: { text: `{i|ρ}{n| = ${RHOS[c]}.}`, rich, align: "center", verticalAlign: "middle" } });
      }
    }
  }

  // legend
  const LEG_X = [311, 420, 557, 681];
  LEGEND_NAMES.forEach((name, k) => {
    graphic.push({ type: "rect", shape: { x: LEG_X[k], y: 916, width: 15, height: 15 }, style: { fill: LEGEND_COLORS[k] } });
    graphic.push({
      type: "text", x: LEG_X[k] + 21, y: 924,
      style: {
        text: `{n|${name} (}{g|${LEGEND_GLYPHS[k]}}{n|)}`, align: "left", verticalAlign: "middle",
        rich: {
          n: { fontFamily: SERIF, fontSize: 25, fill: "#000" },
          g: { fontFamily: '"DejaVu Sans",sans-serif', fontSize: 23, fill: LEGEND_COLORS[k] },
        },
      },
    });
  });

  return { animation: false, backgroundColor: "#fff", grid, xAxis, yAxis, series, graphic };
}

export default function App() {
  const ref = useRef<HTMLDivElement>(null);
  useEffect(() => {
    const chart = echarts.init(ref.current!, null, { renderer: "svg" });
    chart.setOption(buildOption() as any);
    return () => chart.dispose();
  }, []);
  return <div ref={ref} style={{ position: "absolute", left: 0, top: 0, width: 1158, height: 940, background: "#fff" }} />;
}
